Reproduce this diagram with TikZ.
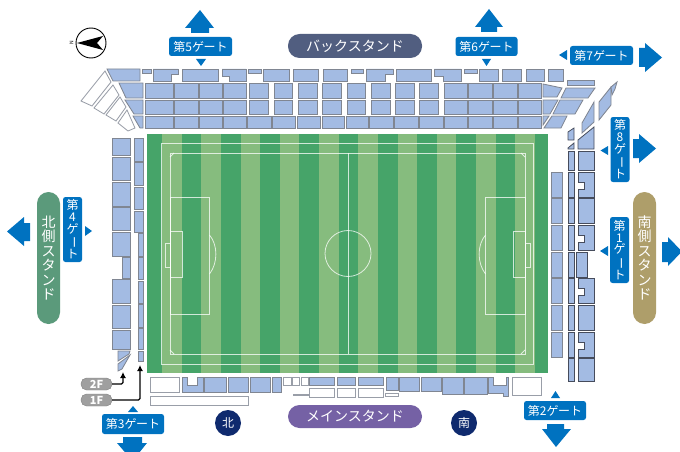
\documentclass[tikz,border=0pt]{standalone}
\usepackage{fontspec}
\setmainfont{Noto Sans CJK JP}
\usepackage{xcolor}
\usepackage{tikz}
\usetikzlibrary{arrows.meta, positioning}
\definecolor{gate_blue}{RGB}{0, 114, 192}
\definecolor{seat_blue}{RGB}{163, 187, 227}
\definecolor{seat_edge}{RGB}{128, 134, 146}
\definecolor{seat_dark}{RGB}{70, 76, 92}
\definecolor{pitch_dark}{RGB}{70, 164, 105}
\definecolor{pitch_light}{RGB}{134, 188, 126}
\definecolor{back_col}{RGB}{81, 94, 128}
\definecolor{main_col}{RGB}{117, 97, 165}
\definecolor{north_col}{RGB}{91, 154, 123}
\definecolor{south_col}{RGB}{174, 158, 106}
\definecolor{navy_col}{RGB}{15, 42, 110}
\newcommand{\vbar}{\rotatebox[origin=c]{-90}{ー}}
\tikzset{
  seat/.style={draw=seat_edge, fill=seat_blue, line width=0.85pt},
  seatd/.style={draw=seat_dark, fill=seat_blue, line width=0.8pt},
  blank/.style={draw=seat_edge!80, fill=white, line width=0.85pt},
  markline/.style={draw=white, opacity=0.75, line width=0.8pt},
  gatebox/.style={fill=gate_blue, rounded corners=2.5pt, text=white, inner sep=0pt, align=center, font=\fontsize{12}{11.8}\selectfont},
  standpill/.style={rounded corners=11.5pt, text=white, inner sep=0pt, align=center, font=\fontsize{14}{14.4}\selectfont},
  floorpill/.style={fill=gray!75, draw=gray, rounded corners=5.5pt, text=white, inner sep=0pt, minimum width=31pt, minimum height=12pt, font=\fontsize{11}{11}\selectfont\bfseries},
  sidemark/.style={circle, fill=navy_col, text=white, inner sep=0pt, minimum size=26pt, font=\fontsize{12}{12}\selectfont},
  floorarrow/.style={draw=black, line width=1.2pt, rounded corners=1.5pt, -{Latex[length=6pt,width=6pt]}}
}
\begin{document}
\begin{tikzpicture}[x=1pt, y=-1pt]
  \useasboundingbox (0,0) rectangle (680,452);
  % pitch
  \fill[pitch_dark] (147,134) rectangle (548,373);
  \foreach \i in {0,...,9} {
    \fill[pitch_light] ({162+39.25*\i},134) rectangle ({181.6+39.25*\i},373);
  }
  \draw[markline] (161,143) rectangle (533,364);
  \draw[markline] (170,153) rectangle (525,354);
  \draw[markline] (348,153) -- (348,354);
  \draw[markline] (348,253.5) circle (23);
  \draw[markline] (170,197) rectangle (209.5,314);
  \draw[markline] (170,231) rectangle (182,277);
  \draw[markline] (165,243) rectangle (170,267);
  \draw[markline] (209.5,235) .. controls (218,245) and (218,263) .. (209.5,274);
  \draw[markline] (485.5,197) rectangle (525,314);
  \draw[markline] (513,231) rectangle (525,277);
  \draw[markline] (525,243) rectangle (530,267);
  \draw[markline] (485.5,235) .. controls (477,245) and (477,263) .. (485.5,274);
  \draw[markline] (170,157) -- (174,153) (170,350) -- (174,354) (525,157) -- (521,153) (525,350) -- (521,354);
  % back stand
  \draw[seat] (107,69) -- (140,69) -- (140,81) -- (113,81) -- cycle;
  \draw[seat] (153,69) -- (178,69) -- (178,74) -- (171,74) -- (171,81) -- (153,81) -- cycle;
  \draw[seat] (222,69) -- (246,69) -- (246,81) -- (229,81) -- (229,76) -- (222,76) -- cycle;
  \draw[seat] (366,69) -- (393,69) -- (393,74) -- (385,74) -- (385,81) -- (366,81) -- cycle;
  \draw[seat] (434,69) -- (461,69) -- (461,81) -- (443,81) -- (443,76) -- (434,76) -- cycle;
  \foreach \xa/\xb in {142/151, 248/261, 351/363, 464/477} {
    \draw[seat] (\xa,69) rectangle (\xb,73);
  }
  \foreach \xa/\xb in {182/218, 263/289, 293/318, 323/347, 396/431, 479/498, 502/521, 526/544, 548/563} {
    \draw[seat] (\xa,69) rectangle (\xb,81);
  }
  \draw[seat] (567,80) rectangle (594,85);
  \foreach \xa/\xb in {145/173, 174/198, 199/222, 223/246, 249/268, 274/292, 298/317, 322/341, 347/365, 371/390, 395/414, 419/438, 444/467, 468/492, 493/517, 518/541} {
    \draw[seat] (\xa,83) rectangle (\xb,98);
    \draw[seat] (\xa,100) rectangle (\xb,114);
  }
  \foreach \xa/\xb in {145/173, 174/198, 199/222, 223/246, 247/271, 272/295, 297/320, 322/344, 346/368, 369/393, 394/418, 419/443, 444/467, 468/492, 493/517, 518/541} {
    \draw[seat] (\xa,116) rectangle (\xb,128);
  }
  \draw[seat] (119,83) -- (143,83) -- (143,98) -- (126,98) -- cycle;
  \draw[seat] (125,100) -- (143,100) -- (143,114) -- (134,114) -- cycle;
  \draw[seat] (133,116) -- (143,116) -- (143,128) -- (140,128) -- cycle;
  \draw[seat] (543,84) -- (562,88) -- (557,97) -- (543,97) -- cycle;
  \draw[seat] (543,100) -- (558,100) -- (550,114) -- (543,114) -- cycle;
  \draw[seat] (543,116) -- (549,116) -- (543,125) -- cycle;
  \draw[seat] (566,88) -- (595,88) -- (588,98) -- (561,98) -- cycle;
  \draw[seat] (560,100) -- (583,100) -- (575,114) -- (553,114) -- cycle;
  \draw[seat] (552,116) -- (567,116) -- (561,128) -- (544,128) -- cycle;
  \draw[blank] (105,71) -- (111,82) -- (92,106) -- (81,101) -- cycle;
  \draw[blank] (113,85) -- (119,95) -- (104,114) -- (94,108) -- cycle;
  \draw[blank] (120,97) -- (126,107) -- (116,121) -- (106,115) -- cycle;
  \draw[blank] (127,110) -- (135,128) -- (128,131) -- (118,123) -- cycle;
  % north stand
  \foreach \ya/\yb in {138/155, 157/180, 182/206, 207/230, 232/256, 279/303, 305/328, 330/349} {
    \draw[seat] (112,\ya) rectangle (130,\yb);
  }
  \draw[seat] (122,257) rectangle (130,278);
  \foreach \ya/\yb in {138/161, 162/185, 187/209, 211/232} {
    \draw[seat] (134,\ya) rectangle (143,\yb);
  }
  \foreach \ya/\yb in {233/256, 257/279, 281/303, 304/327, 328/349, 351/361} {
    \draw[seat] (138,\ya) rectangle (143,\yb);
  }
  \draw[seat] (118,351) -- (130,351) -- (129,354) -- (118,361) -- cycle;
  \draw[seat] (118,371) -- (118,364) -- (130,355) -- (122,369) -- cycle;
  % main stand
  \draw[blank] (150,377) rectangle (179,392);
  \draw[blank] (150,396) rectangle (248,405);
  \draw[seat] (182,377) -- (187,377) -- (187,385) -- (197,385) -- (197,377) -- (203,377) -- (203,392) -- (182,392) -- cycle;
  \foreach \xa/\xb in {204/226, 228/248, 250/270, 272/281} {
    \draw[seat] (\xa,377) rectangle (\xb,392);
  }
  \foreach \xa/\xb in {283/291, 292/299, 301/308} {
    \draw[blank] (\xa,377) rectangle (\xb,385);
  }
  \foreach \xa/\xb in {309/334, 337/355, 358/383} {
    \draw[seat] (\xa,377) rectangle (\xb,385);
    \draw[blank] (\xa,388) rectangle (\xb,397);
  }
  \draw[blank] (293,394) rectangle (309,395.5);
  \draw[blank] (385,393.5) rectangle (398,396);
  \draw[seat] (386,377) rectangle (398,390);
  \draw[seat] (399,377) rectangle (419,391);
  \draw[seat] (421,377) rectangle (441,391);
  \draw[seat] (442,377) rectangle (463,394);
  \draw[seat] (464,377) rectangle (487,394);
  \draw[seat] (488,377) -- (493,377) -- (493,385) -- (506,385) -- (506,377) -- (508,377) -- (508,396) -- (503,396) -- (503,393) -- (488,393) -- cycle;
  \draw[blank] (512,377) rectangle (541,395);
  % south stand
  \foreach \ya/\yb in {172/197, 198/223, 225/250, 252/277, 278/303, 305/330, 332/357} {
    \draw[seat] (551,\ya) rectangle (562,\yb);
  }
  \foreach \ya/\yb in {151/170, 172/197, 198/223, 225/250, 252/277, 278/303, 305/330, 332/357, 358/381} {
    \draw[seatd] (568,\ya) rectangle (574,\yb);
  }
  \foreach \ya/\yb in {151/170, 198/223, 305/330, 358/381} {
    \draw[seatd] (578,\ya) rectangle (594,\yb);
  }
  \foreach \ya in {172, 225, 278, 332} {
    \draw[seatd] (578,\ya) -- (594,\ya) -- (594,\ya+25) -- (578,\ya+25) -- (578,\ya+17) -- (584,\ya+17) -- (584,\ya+10) -- (578,\ya+10) -- cycle;
  }
  \draw[seatd] (576,252) rectangle (587,277);
  \draw[seatd] (568,132) -- (574,128) -- (574,140) -- (568,140) -- cycle;
  \draw[seatd] (568,148) -- (574,143) -- (574,149) -- (568,149) -- cycle;
  \draw[seatd] (578,140) -- (594,127) -- (594,149) -- (578,149) -- cycle;
  \draw[seat] (582,123) -- (594,102) -- (594,122) -- (582,133) -- cycle;
  \draw[seat] (599,102) -- (611,87) -- (611,105) -- (599,120) -- cycle;
  \draw[seat] (611,87) -- (617,82) -- (615,89) -- (612,95) -- cycle;
  % stand names
  \node[standpill, fill=back_col, minimum width=134pt, minimum height=24pt] (back_stand) at (355,46) {バックスタンド};
  \node[standpill, fill=main_col, minimum width=134pt, minimum height=23pt] (main_stand) at (355,416.5) {メインスタンド};
  \node[standpill, fill=north_col, minimum width=23pt, minimum height=132pt] (north_stand) at (48.5,258) {北\\側\\ス\\タ\\ン\\ド};
  \node[standpill, fill=south_col, minimum width=23pt, minimum height=132pt] (south_stand) at (644.5,258) {南\\側\\ス\\タ\\ン\\ド};
  \node[sidemark] (north_mark) at (228,423) {北};
  \node[sidemark] (south_mark) at (464,423) {南};
  % gates
  \node[gatebox, minimum width=63pt, minimum height=19pt] (gate_five) at (200.5,46.5) {第5ゲ\kern-.5pt ート};
  \node[gatebox, minimum width=62pt, minimum height=19pt] (gate_six) at (486.5,46.5) {第6ゲ\kern-.5pt ート};
  \node[gatebox, minimum width=63pt, minimum height=19pt] (gate_seven) at (601.5,55.5) {第7ゲ\kern-.5pt ート};
  \node[gatebox, minimum width=62pt, minimum height=20pt] (gate_three) at (133,424) {第3ゲ\kern-.5pt ート};
  \node[gatebox, minimum width=62pt, minimum height=19pt] (gate_two) at (555,410.5) {第2ゲ\kern-.5pt ート};
  \node[gatebox, minimum width=19pt, minimum height=65pt] (gate_eight) at (620,149.5) {第\\8\\ゲ\\\vbar\\ト};
  \node[gatebox, minimum width=19pt, minimum height=66pt] (gate_one) at (619.5,250) {第\\1\\ゲ\\\vbar\\ト};
  \node[gatebox, minimum width=19pt, minimum height=65pt] (gate_four) at (72.5,229.5) {第\\4\\ゲ\\\vbar\\ト};
  % gate arrows
  \fill[gate_blue] (196,59) -- (206,59) -- (201,66) -- cycle;
  \fill[gate_blue] (482,59) -- (491,59) -- (486.5,66) -- cycle;
  \fill[gate_blue] (567,50) -- (567,60) -- (559,55) -- cycle;
  \fill[gate_blue] (608,146) -- (608,155) -- (600.5,150.5) -- cycle;
  \fill[gate_blue] (608,246) -- (608,256) -- (600,251) -- cycle;
  \fill[gate_blue] (85,226) -- (85,236) -- (92,231) -- cycle;
  \fill[gate_blue] (128,412) -- (138,412) -- (133,406) -- cycle;
  \fill[gate_blue] (551,398) -- (560,398) -- (555.5,391) -- cycle;
  \fill[gate_blue] (200,10) -- (214,28) -- (209,28) -- (209,33) -- (191,33) -- (191,28) -- (185,28) -- cycle;
  \fill[gate_blue] (489,9) -- (503,27) -- (497,27) -- (497,32) -- (481,32) -- (481,27) -- (475,27) -- cycle;
  \fill[gate_blue] (662,57.5) -- (645,72) -- (645,67) -- (639,67) -- (639,48) -- (645,48) -- (645,43) -- cycle;
  \fill[gate_blue] (656,148.5) -- (639,163) -- (639,158) -- (633,158) -- (633,139) -- (639,139) -- (639,134) -- cycle;
  \fill[gate_blue] (682,251.5) -- (668,266) -- (668,262) -- (662,262) -- (662,242) -- (668,242) -- (668,237) -- cycle;
  \fill[gate_blue] (7,231.5) -- (24,217) -- (24,223) -- (30,223) -- (30,241) -- (24,241) -- (24,246) -- cycle;
  \fill[gate_blue] (132.5,461) -- (117,443) -- (123,443) -- (123,437) -- (142,437) -- (142,443) -- (147,443) -- cycle;
  \fill[gate_blue] (556,447) -- (542,429) -- (547,429) -- (547,424) -- (564,424) -- (564,429) -- (571,429) -- cycle;
  % floors
  \node[floorpill] (floor_two) at (96.5,384) {2F};
  \node[floorpill] (floor_one) at (96.5,400) {1F};
  \coordinate (tip_two) at (123,372);
  \coordinate (tip_one) at (140,365);
  \draw[floorarrow] (floor_two.east) -| (tip_two);
  \draw[floorarrow] (floor_one.east) -| (tip_one);
  % compass
  \node[circle, draw=black, line width=0.9pt, minimum size=30pt, inner sep=0pt] (compass) at (91,43) {};
  \fill[black] (77,43) -- (103,36) -- (97,43) -- (103,50) -- cycle;
  \node[rotate=90, inner sep=0pt, font=\fontsize{5}{5}\selectfont] (compass_n) at (71.5,43) {N};
\end{tikzpicture}
\end{document}
